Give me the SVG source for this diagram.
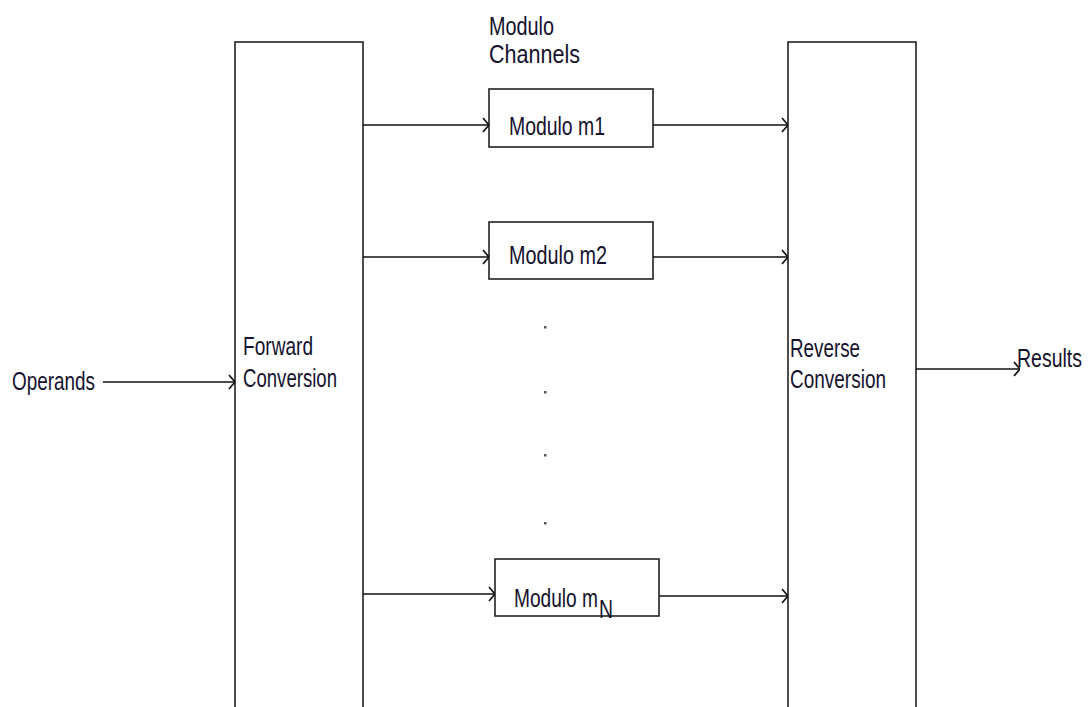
<svg xmlns="http://www.w3.org/2000/svg" width="1090" height="707" viewBox="0 0 1090 707">
<style>
.box{fill:#fff;stroke:#222;stroke-width:1.6}
.ln{fill:none;stroke:#111;stroke-width:1.5}
.t{font-family:"Liberation Sans",Arial,sans-serif;font-size:25px;fill:#15122e}
.dot{fill:#555}
</style>
<defs>
<marker id="arr" viewBox="0 0 10 16" refX="10" refY="8" markerWidth="10" markerHeight="16" markerUnits="userSpaceOnUse" orient="auto">
<path d="M4,1 L10,8 L4,15" fill="none" stroke="#111" stroke-width="1.7"/>
</marker>
</defs>
<rect width="1090" height="707" fill="#fff"/>
<g id="forward">
<rect class="box" x="235" y="42" width="128" height="700"/>
<text class="t" x="243" y="355" textLength="70" lengthAdjust="spacingAndGlyphs">Forward</text>
<text class="t" x="243" y="387" textLength="94" lengthAdjust="spacingAndGlyphs">Conversion</text>
</g>
<g id="reverse">
<rect class="box" x="788" y="42" width="128" height="700"/>
<text class="t" x="790" y="357" textLength="70" lengthAdjust="spacingAndGlyphs">Reverse</text>
<text class="t" x="790" y="388" textLength="96" lengthAdjust="spacingAndGlyphs">Conversion</text>
</g>
<g id="m1">
<rect class="box" x="489" y="89" width="164" height="58"/>
<text class="t" x="509" y="135" textLength="96" lengthAdjust="spacingAndGlyphs">Modulo m1</text>
</g>
<g id="m2">
<rect class="box" x="489" y="222" width="164" height="57"/>
<text class="t" x="509" y="264" textLength="98" lengthAdjust="spacingAndGlyphs">Modulo m2</text>
</g>
<g id="mN">
<rect class="box" x="495" y="559" width="164" height="57"/>
<text class="t" x="514" y="607" textLength="84" lengthAdjust="spacingAndGlyphs">Modulo m</text>
<text class="t" x="599" y="618" textLength="14" lengthAdjust="spacingAndGlyphs">N</text>
</g>
<g id="labels">
<text class="t" x="12" y="390" textLength="83" lengthAdjust="spacingAndGlyphs">Operands</text>
<text class="t" x="1017" y="367" textLength="65" lengthAdjust="spacingAndGlyphs">Results</text>
<text class="t" x="489" y="35" textLength="65" lengthAdjust="spacingAndGlyphs">Modulo</text>
<text class="t" x="489" y="63" textLength="91" lengthAdjust="spacingAndGlyphs">Channels</text>
</g>
<g id="dots">
<rect class="dot" x="544" y="326" width="2.5" height="2.5"/>
<rect class="dot" x="544" y="391" width="2.5" height="2.5"/>
<rect class="dot" x="544" y="454" width="2.5" height="2.5"/>
<rect class="dot" x="544" y="522" width="2.5" height="2.5"/>
</g>
<g id="connectors">
<line class="ln" x1="103" y1="382" x2="235" y2="382" marker-end="url(#arr)"/>
<line class="ln" x1="363" y1="125" x2="489" y2="125" marker-end="url(#arr)"/>
<line class="ln" x1="653" y1="125" x2="788" y2="125" marker-end="url(#arr)"/>
<line class="ln" x1="363" y1="257" x2="489" y2="257" marker-end="url(#arr)"/>
<line class="ln" x1="653" y1="257" x2="788" y2="257" marker-end="url(#arr)"/>
<line class="ln" x1="363" y1="594" x2="495" y2="594" marker-end="url(#arr)"/>
<line class="ln" x1="659" y1="596" x2="788" y2="596" marker-end="url(#arr)"/>
<line class="ln" x1="916" y1="369" x2="1020" y2="369" marker-end="url(#arr)"/>
</g>
</svg>
